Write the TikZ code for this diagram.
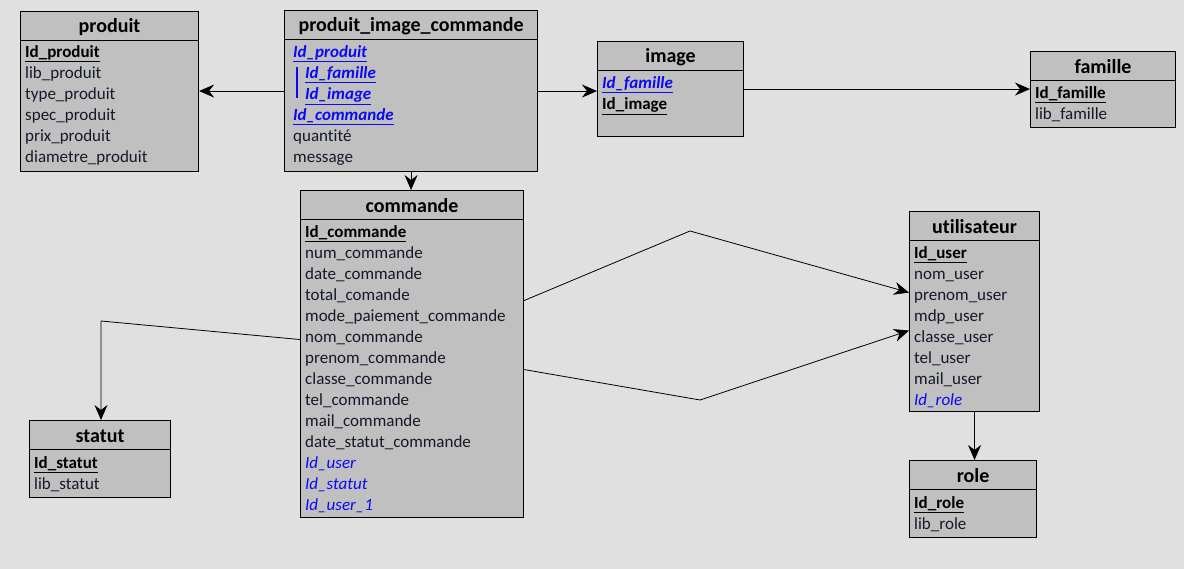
\documentclass[tikz,border=0pt]{standalone}
\usepackage{fontspec}
\setmainfont[Ligatures=NoCommon]{Carlito}
\usepackage{tikz}
\usetikzlibrary{positioning}
\usetikzlibrary{arrows.meta}
\definecolor{fond}{HTML}{E0E0E0}
\definecolor{boitegris}{HTML}{C0C0C0}
\definecolor{texteattr}{HTML}{14192A}
\definecolor{bleucle}{HTML}{0A0AF5}
\newcommand{\entite}[6]{%
  \node[boite, minimum width=#4pt, minimum height=#5pt] (#1) at (#2,#3) {};
  \draw[line width=1.1pt] ([yshift=-29.5pt]#1.north west) -- ([yshift=-29.5pt]#1.north east);
  \node[titre] (#1-titre) at ([yshift=-16pt]#1.north) {#6};}

\begin{document}
\begin{tikzpicture}[x=1pt,y=-1pt,
  boite/.style={draw, line width=1.1pt, fill=boitegris, inner sep=0pt, anchor=north west},
  titre/.style={inner sep=0pt, font=\bfseries\fontsize{20}{22}\selectfont, text=black},
  attr/.style={anchor=west, inner sep=0pt, text height=14pt, text depth=1pt, font=\fontsize{17}{19}\selectfont, text=texteattr},
  cle/.style={attr, font=\bfseries\fontsize{17}{19}\selectfont, text=black},
  cleetr/.style={attr, font=\bfseries\itshape\fontsize{17}{19}\selectfont, text=bleucle},
  etr/.style={attr, font=\itshape\fontsize{17}{19}\selectfont, text=bleucle},
  lien/.style={line width=0.8pt, -{Stealth[length=15pt,width=13pt,inset=5pt]}}]
\fill[fond] (0,0) rectangle (1184,569);
\useasboundingbox (0,0) rectangle (1184,569);

\entite{produit}{20}{11}{178}{160}{produit}
\node[cle] (produit-k) at (25,51) {\underline{Id\_produit}};
\foreach \t [count=\i] in {lib\_produit,type\_produit,spec\_produit,prix\_produit,diametre\_produit}
  \node[attr] (produit-\i) at (25,51+21*\i) {\t};

\entite{pic}{284}{10}{253}{161}{produit\_image\_commande}
\node[cleetr] (pic-k1) at (293,51) {\underline{Id\_produit}};
\node[cleetr] (pic-k2) at (305,72) {\underline{Id\_famille}};
\node[cleetr] (pic-k3) at (305,93) {\underline{Id\_image}};
\node[cleetr] (pic-k4) at (293,114) {\underline{Id\_commande}};
\node[attr] (pic-1) at (293,135) {quantité};
\node[attr] (pic-2) at (293,156) {message};
\draw[bleucle, line width=2pt] ([xshift=-8pt,yshift=-3pt]pic-k2.north west) -- ([xshift=-8pt,yshift=3pt]pic-k3.south west);

\entite{image}{597}{41}{146}{95}{image}
\node[cleetr] (image-k1) at (602,82) {\underline{Id\_famille}};
\node[cle] (image-k2) at (602,103) {\underline{Id\_image}};

\entite{famille}{1030}{51}{145}{76}{famille}
\node[cle] (famille-k) at (1035,92) {\underline{Id\_famille}};
\node[attr] (famille-1) at (1035,113) {lib\_famille};

\entite{commande}{300}{190}{223}{327}{commande}
\node[cle] (commande-k) at (305,231) {\underline{Id\_commande}};
\foreach \t [count=\i] in {num\_commande,date\_commande,total\_comande,mode\_paiement\_commande,nom\_commande,prenom\_commande,classe\_commande,tel\_commande,mail\_commande,date\_statut\_commande}
  \node[attr] (commande-\i) at (305,231+21*\i) {\t};
\foreach \t [count=\i from 11] in {Id\_user,Id\_statut,Id\_user\_1}
  \node[etr] (commande-\i) at (305,231+21*\i) {\t};

\entite{utilisateur}{909}{211}{130}{200}{utilisateur}
\node[cle] (utilisateur-k) at (914,252) {\underline{Id\_user}};
\foreach \t [count=\i] in {nom\_user,prenom\_user,mdp\_user,classe\_user,tel\_user,mail\_user}
  \node[attr] (utilisateur-\i) at (914,252+21*\i) {\t};
\node[etr] (utilisateur-7) at (914,399) {Id\_role};

\entite{role}{909}{460}{127}{77}{role}
\node[cle] (role-k) at (914,502) {\underline{Id\_role}};
\node[attr] (role-1) at (914,523) {lib\_role};

\entite{statut}{29}{420}{141}{77}{statut}
\node[cle] (statut-k) at (34,462) {\underline{Id\_statut}};
\node[attr] (statut-1) at (34,483) {lib\_statut};

\coordinate (k1) at (690,231);
\coordinate (k2) at (700,400);
\coordinate (k3) at (101,321);

\draw[lien] (pic.west) -- (pic.west -| produit.east);
\draw[lien] (pic.east) -- (pic.east -| image.west);
\draw[lien] (image.east) -- (image.east -| famille.west);
\draw[lien] (pic.south) -- (pic.south |- commande.north);
\draw[lien] ([yshift=53.5pt]commande.east) -- (k1) -- ([yshift=19pt]utilisateur.west);
\draw[lien] ([yshift=-15.5pt]commande.east) -- (k2) -- ([yshift=-19pt]utilisateur.west);
\draw[lien] ([yshift=14.5pt]commande.west) -- (k3) -- (k3 |- statut.north);
\draw[lien] (utilisateur.south) -- (utilisateur.south |- role.north);
\end{tikzpicture}
\end{document}
